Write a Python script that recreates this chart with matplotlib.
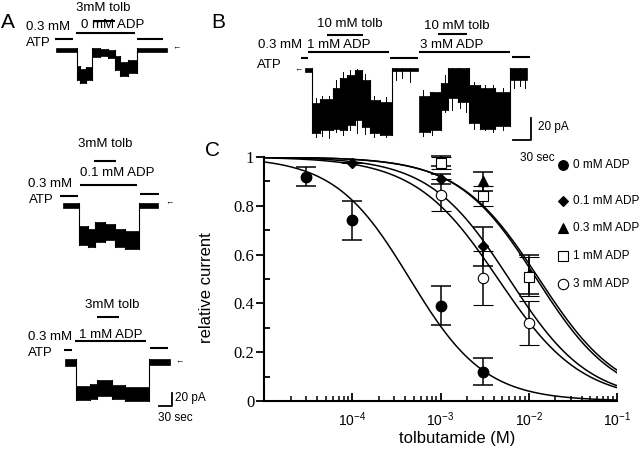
import numpy as np
import matplotlib
matplotlib.use("Agg")
import matplotlib.pyplot as plt
from matplotlib.patches import Rectangle
from matplotlib.transforms import Affine2D
from matplotlib.ticker import FixedLocator, LogLocator, NullFormatter

plt.rcParams['font.family'] = ['Liberation Sans', 'DejaVu Sans']
plt.rcParams['mathtext.fontset'] = 'custom'
plt.rcParams['mathtext.rm'] = 'Liberation Sans'
plt.rcParams['mathtext.it'] = 'Liberation Sans'

# ---------------- panel C data: relative current vs tolbutamide (M) ----------------
adp_labels = ['0 mM ADP', '0.1 mM ADP', '0.3 mM ADP', '1 mM ADP', '3 mM ADP']

conc_0 = [3e-5, 1e-4, 1e-3, 3e-3]
rel_0 = [0.92, 0.74, 0.39, 0.12]
err_0 = [0.04, 0.08, 0.08, 0.055]

conc_01 = [1e-4, 1e-3, 3e-3]
rel_01 = [0.977, 0.91, 0.635]
err_01 = [0.0, 0.02, 0.08]

conc_03 = [1e-3, 3e-3, 1e-2]
rel_03 = [0.985, 0.90, 0.52]
err_03 = [0.02, 0.04, 0.08]

conc_1 = [1e-3, 3e-3, 1e-2]
rel_1 = [0.975, 0.84, 0.51]
err_1 = [0.025, 0.04, 0.08]

conc_3 = [1e-3, 3e-3, 1e-2]
rel_3 = [0.845, 0.505, 0.32]
err_3 = [0.065, 0.11, 0.09]

# Hill fits (IC50 in M, Hill coefficient), order 0, 0.1, 0.3, 1, 3 mM ADP
fit_ic50 = [4.5e-4, 6.0e-3, 1.31e-2, 1.23e-2, 4.5e-3]
fit_hill = [1.02, 0.96, 0.95, 0.97, 0.92]

# ---------------- panels A & B: current traces (time s, current pA) ----------------
# segments: (t start, t end, top of noise band, bottom of noise band)
trace_a1 = [(0, 48, 0, -6), (48, 55, -28, -49), (55, 69, -32, -54), (69, 83, -29, -49),
            (83, 102, 0, -14), (102, 120, -2, -12), (120, 136, -3, -15), (136, 148, -12, -34),
            (148, 166, -22, -43), (166, 187, -18, -38), (187, 256, 0, -6)]
trace_a2 = [(0, 37, 0, -8), (37, 58, -35, -65), (58, 74, -40, -68), (74, 97, -29, -60),
            (97, 120, -32, -57), (120, 143, -40, -68), (143, 176, -43, -71), (176, 219, 0, -8)]
trace_a3 = [(0, 25, 0, -11), (25, 58, -42, -63), (58, 74, -39, -62), (74, 109, -32, -57),
            (109, 139, -40, -62), (139, 194, -43, -65), (194, 243, 0, -9)]
trace_b = [(0, 12, 0, -4), (12, 25, -32, -59), (25, 47, -28, -56), (47, 58, -18, -55),
           (58, 70, -9, -56), (70, 83, -6, -52), (83, 95, -2, -47), (95, 108, -11, -54),
           (108, 125, -29, -59), (125, 145, -31, -61), (145, 188, 0, -3),
           (190, 208, -25, -58), (208, 227, -22, -56), (227, 238, -14, -38), (238, 255, 0, -27),
           (255, 273, 0, -31), (273, 292, -15, -50), (292, 317, -18, -55), (317, 342, -22, -53),
           (342, 370, 0, -11)]

# single-channel spikes in panel B: (t, top, bottom)
spikes_b = [(18, -27, -63), (28, -25, -62), (40, -25, -64), (52, -11, -58), (63, -4, -61),
            (75, -2, -56), (87, -1, -59), (100, -5, -60), (115, -25, -63), (135, -26, -63),
            (152, 0, -11), (162, 0, -9), (175, 0, -13),
            (197, -20, -62), (212, -22, -61), (233, -6, -40), (245, 0, -38), (258, 0, -36),
            (268, 0, -40), (282, -13, -55), (300, -15, -56), (313, -15, -58), (330, -18, -56),
            (348, 0, -18), (358, 0, -16), (367, 0, -18)]

# solution bars: (t start, t end, level pA)
bars_a1 = [(-2, 39, 14), (46, 182, 23), (85, 136, 42), (187, 247, 14)]
bars_a2 = [(-7, 35, 11), (39, 171, 27), (72, 122, 65), (178, 222, 14)]
bars_a3 = [(-2, 16, 14), (23, 187, 27), (74, 125, 64), (196, 238, 17)]
bars_b = [(-7, 5, 9), (5, 140, 14.3), (37, 97, 30), (142, 188, 9),
          (190, 342, 14.5), (222, 270, 30.6), (345, 375, 9.7)]

fig = plt.figure(figsize=(6.4, 4.49), dpi=100)
ax0 = fig.add_axes([0, 0, 1, 1])
ax0.set_xlim(0, 640)
ax0.set_ylim(449, 0)
ax0.axis('off')


def place(left, base, s_px, pa_px):
    return Affine2D().scale(1 / s_px, -1 / pa_px).translate(left, base) + ax0.transData


def draw_trace(tr, segs, bars, spikes=()):
    for k, (t0, t1, top, bot) in enumerate(segs):
        ax0.add_patch(Rectangle((t0, bot), t1 - t0, top - bot, facecolor='k',
                                edgecolor='k', lw=0.5, transform=tr))
        if k > 0 and segs[k - 1][1] == t0:
            p = segs[k - 1]
            ax0.plot([t0, t0], [min(p[3], bot), max(p[2], top)], color='k', lw=0.8, transform=tr)
    for t, top, bot in spikes:
        ax0.plot([t, t], [bot, top], color='k', lw=0.7, transform=tr)
    for t0, t1, lev in bars:
        ax0.plot([t0, t1], [lev, lev], color='k', lw=1.5, transform=tr, solid_capstyle='butt')


sA = (30 / 13, 20 / 13)
sB = (30 / 18, 20 / 22)
tr_a1 = place(56, 48, *sA)
tr_a2 = place(63, 203, *sA)
tr_a3 = place(65, 359, *sA)
tr_b = place(305, 68, *sB)
draw_trace(tr_a1, trace_a1, bars_a1)
draw_trace(tr_a2, trace_a2, bars_a2)
draw_trace(tr_a3, trace_a3, bars_a3)
draw_trace(tr_b, trace_b, bars_b, spikes_b)

# scale bars
ax0.plot([217, 247, 247], [-72, -72, -52], color='k', lw=1.3, transform=tr_a3)
ax0.plot([347, 377, 377], [-65, -65, -45], color='k', lw=1.3, transform=tr_b)

fs = 9.5
txt = dict(ha='center', va='center', fontsize=fs)
ax0.text(8, 22, 'A', fontsize=15, ha='center', va='center')
ax0.text(218, 23, 'B', fontsize=15, ha='center', va='center')
ax0.text(213, 150, 'C', fontsize=15, ha='center', va='center')

# panel A labels
ax0.text(103, 8, '3mM tolb', **txt)
ax0.text(113, 25, '0 mM ADP', **txt)
ax0.text(48, 27, '0.3 mM', **txt)
ax0.text(26, 43, 'ATP', ha='left', va='center', fontsize=fs)
ax0.text(105, 144, '3mM tolb', **txt)
ax0.text(117, 173, '0.1 mM ADP', **txt)
ax0.text(50, 184, '0.3 mM', **txt)
ax0.text(29, 200, 'ATP', ha='left', va='center', fontsize=fs)
ax0.text(112, 305, '3mM tolb', **txt)
ax0.text(111, 335, '1 mM ADP', **txt)
ax0.text(50, 337, '0.3 mM', **txt)
ax0.text(28, 353, 'ATP', ha='left', va='center', fontsize=fs)
for x, y in [(176, 48), (169, 203), (179, 362)]:
    ax0.text(x, y, '\u2190', ha='center', va='center', fontsize=6)
ax0.text(175, 398, '20 pA', ha='left', va='center', fontsize=8.5)
ax0.text(175, 418, '30 sec', ha='center', va='center', fontsize=8.5)

# panel B labels
ax0.text(350, 24, '10 mM tolb', **txt)
ax0.text(339, 45, '1 mM ADP', **txt)
ax0.text(457, 26, '10 mM tolb', **txt)
ax0.text(452, 45, '3 mM ADP', **txt)
ax0.text(280, 45, '0.3 mM', **txt)
ax0.text(257, 65, 'ATP', ha='left', va='center', fontsize=fs)
ax0.text(298, 70, '\u2190', ha='center', va='center', fontsize=6)
ax0.text(538, 127, '20 pA', ha='left', va='center', fontsize=8.5)
ax0.text(537, 158, '30 sec', ha='center', va='center', fontsize=8.5)

# ---------------- panel C ----------------
axC = fig.add_axes([264 / 640, 1 - 401 / 449, 353 / 640, 244 / 449])
axC.set_xscale('log')
axC.set_xlim(1e-5, 1e-1)
axC.set_ylim(0, 1)
axC.patch.set_alpha(0)
for s in ['top', 'right']:
    axC.spines[s].set_visible(False)
for s in ['left', 'bottom']:
    axC.spines[s].set_linewidth(1.5)

xc = np.logspace(-5, -1, 400)
for ic, h in zip(fit_ic50, fit_hill):
    axC.plot(xc, 1 / (1 + (xc / ic) ** h), color='k', lw=1.1)

ebk = dict(ecolor='k', elinewidth=1.1, capsize=7, capthick=1.1, linestyle='none', clip_on=False)
axC.errorbar(conc_0, rel_0, yerr=err_0, marker='o', ms=7.5, mfc='k', mec='k', **ebk)
axC.errorbar(conc_01, rel_01, yerr=err_01, marker='D', ms=5, mfc='k', mec='k', **ebk)
axC.errorbar(conc_03, rel_03, yerr=err_03, marker='^', ms=6.5, mfc='k', mec='k', **ebk)
axC.errorbar(conc_1, rel_1, yerr=err_1, marker='s', ms=7, mfc='white', mec='k', mew=0.8, **ebk)
axC.errorbar(conc_3, rel_3, yerr=err_3, marker='o', ms=7.5, mfc='white', mec='k', mew=0.8, **ebk)

axC.xaxis.set_major_locator(FixedLocator([1e-4, 1e-3, 1e-2, 1e-1]))
axC.set_xticklabels(['$10^{-4}$', '$10^{-3}$', '$10^{-2}$', '$10^{-1}$'])
axC.xaxis.set_minor_locator(LogLocator(base=10, subs=np.arange(2, 10)))
axC.xaxis.set_minor_formatter(NullFormatter())
axC.set_yticks([0, 0.2, 0.4, 0.6, 0.8, 1.0])
axC.set_yticklabels(['0', '0.2', '0.4', '0.6', '0.8', '1'], fontfamily='Liberation Serif',
                    fontsize=12)
axC.set_yticks([0.1, 0.3, 0.5, 0.7, 0.9], minor=True)
axC.tick_params(axis='y', which='major', direction='out', length=6, width=1.3, pad=1)
axC.tick_params(axis='y', which='minor', direction='in', length=4, width=1.3)
axC.tick_params(axis='x', which='major', direction='in', length=6, width=1.3, labelsize=10, pad=7)
axC.tick_params(axis='x', which='minor', direction='in', length=3.5, width=1.1)
axC.set_xlabel('tolbutamide (M)', fontsize=12)
axC.xaxis.set_label_coords(0.547, -0.125)
axC.set_ylabel('relative current', fontsize=12)
axC.yaxis.set_label_coords(-0.142, 0.463)

# legend
leg_y = [165, 201, 228, 256, 284]
leg_style = [('o', 'k', 7), ('D', 'k', 5), ('^', 'k', 6.5), ('s', 'white', 7), ('o', 'white', 7.5)]
for y, lab, (m, fc, ms) in zip(leg_y, adp_labels, leg_style):
    ax0.plot(563, y, marker=m, ms=ms, mfc=fc, mec='k', mew=0.8, linestyle='none')
    ax0.text(573, y, lab, ha='left', va='center', fontsize=8.5)

fig.savefig('out.png', dpi=100)
